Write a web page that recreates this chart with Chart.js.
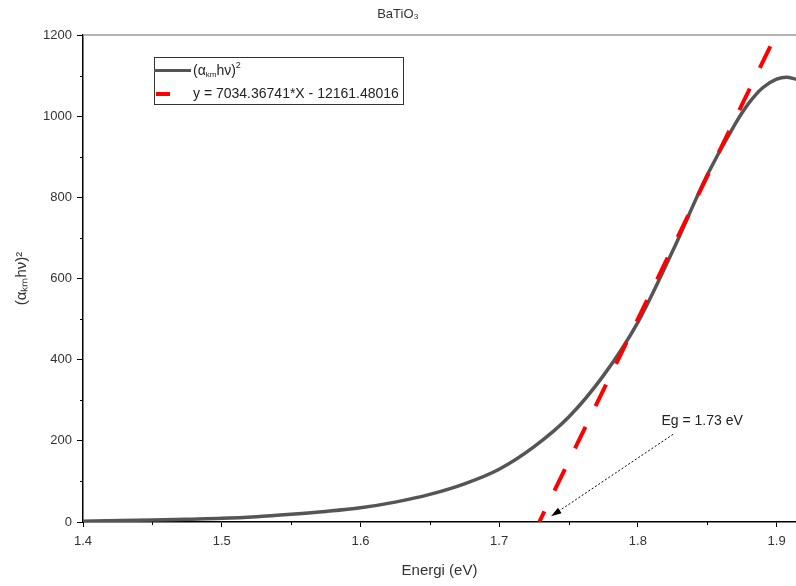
<!DOCTYPE html>
<html lang="en">
<head>
    <meta charset="UTF-8">
    <title>BaTiO3 Tauc plot</title>
    <script src="https://cdn.jsdelivr.net/npm/chart.js"></script>
    <style>
        * {
            margin: 0;
            padding: 0;
            box-sizing: border-box;
        }

        body {
            background-color: #fff;
        }
    </style>
</head>
<body>
    <canvas id="tauc-chart" width="796" height="586"></canvas>

    <script>
        // (alpha_km * h * nu)^2
        var energies = [1.40, 1.45, 1.475, 1.50, 1.525, 1.55, 1.575, 1.60, 1.625, 1.65, 1.675, 1.70,
            1.725, 1.75, 1.775, 1.80, 1.825, 1.85, 1.87, 1.88, 1.89, 1.90, 1.907, 1.914];
        var absorption = [2, 5, 7, 9, 13, 19, 26, 35, 49, 68, 94, 130,
            185, 258, 360, 492, 667, 855, 980, 1032, 1070, 1091, 1096, 1091];

        // linear fit end points (drawn from the top end down)
        var fitX = [1.8955, 1.7289];
        var fitY = [1172, 0];

        var xTicks = [1.4, 1.5, 1.6, 1.7, 1.8, 1.9];
        var xMinor = [1.45, 1.55, 1.65, 1.75, 1.85];
        var yTicks = [0, 200, 400, 600, 800, 1000, 1200];
        var yMinor = [100, 300, 500, 700, 900, 1100];

        var curveLabel = '(\u03b1\u2096\u2098h\u03bd)\u00b2';
        var fitLabel = 'y = 7034.36741*X - 12161.48016';
        var gapLabel = 'Eg = 1.73 eV';
        var gapArrow = { from: [1.8254, 216], to: [1.7374, 14], text: [1.8463, 248] };

        var fontFamily = '"Liberation Sans", Arial, sans-serif';

        function pts(xs, ys) {
            return xs.map(function (x, i) { return { x: x, y: ys[i] }; });
        }

        var extras = {
            id: 'extras',
            afterDraw: function (chart) {
                var ctx = chart.ctx;
                var area = chart.chartArea;
                var sx = chart.scales.x, sy = chart.scales.y;
                ctx.save();

                // top frame line
                ctx.strokeStyle = '#9a9a9a';
                ctx.lineWidth = 1.5;
                ctx.beginPath();
                ctx.moveTo(area.left, area.top);
                ctx.lineTo(area.right, area.top);
                ctx.stroke();

                // minor ticks
                ctx.strokeStyle = '#000';
                ctx.lineWidth = 1;
                ctx.beginPath();
                xMinor.forEach(function (v) {
                    var px = Math.round(sx.getPixelForValue(v)) + 0.5;
                    ctx.moveTo(px, area.bottom);
                    ctx.lineTo(px, area.bottom + 3);
                });
                yMinor.forEach(function (v) {
                    var py = Math.round(sy.getPixelForValue(v)) + 0.5;
                    ctx.moveTo(area.left, py);
                    ctx.lineTo(area.left - 3, py);
                });
                ctx.stroke();

                // legend box
                var lx = 154, ly = 57, lw = 249, lh = 47;
                ctx.fillStyle = '#fff';
                ctx.fillRect(lx, ly, lw, lh);
                ctx.strokeStyle = '#333';
                ctx.lineWidth = 1;
                ctx.strokeRect(lx + 0.5, ly + 0.5, lw, lh);

                ctx.strokeStyle = '#555';
                ctx.lineWidth = 3;
                ctx.beginPath();
                ctx.moveTo(lx, 70.5);
                ctx.lineTo(lx + 37, 70.5);
                ctx.stroke();

                ctx.strokeStyle = '#ff0000';
                ctx.lineWidth = 4;
                ctx.beginPath();
                ctx.moveTo(lx + 2, 94);
                ctx.lineTo(lx + 16, 94);
                ctx.stroke();

                ctx.fillStyle = '#222';
                ctx.textBaseline = 'middle';
                ctx.textAlign = 'left';
                var tx = lx + 39;
                ctx.font = '14px ' + fontFamily;
                ctx.fillText('(\u03b1', tx, 71);
                tx += ctx.measureText('(\u03b1').width;
                ctx.font = '8px ' + fontFamily;
                ctx.fillText('km', tx, 75);
                tx += ctx.measureText('km').width;
                ctx.font = '14px ' + fontFamily;
                ctx.fillText('h\u03bd)', tx, 71);
                tx += ctx.measureText('h\u03bd)').width;
                ctx.font = '9px ' + fontFamily;
                ctx.fillText('2', tx, 66);

                ctx.font = '14px ' + fontFamily;
                ctx.fillText(fitLabel, lx + 39, 94);

                // band gap annotation
                var ax0 = sx.getPixelForValue(gapArrow.from[0]), ay0 = sy.getPixelForValue(gapArrow.from[1]);
                var ax1 = sx.getPixelForValue(gapArrow.to[0]), ay1 = sy.getPixelForValue(gapArrow.to[1]);
                var ang = Math.atan2(ay1 - ay0, ax1 - ax0);
                ctx.strokeStyle = '#000';
                ctx.lineWidth = 1;
                ctx.setLineDash([2, 2]);
                ctx.beginPath();
                ctx.moveTo(ax0, ay0);
                ctx.lineTo(ax1 - 8 * Math.cos(ang), ay1 - 8 * Math.sin(ang));
                ctx.stroke();
                ctx.setLineDash([]);
                ctx.fillStyle = '#000';
                ctx.beginPath();
                ctx.moveTo(ax1, ay1);
                ctx.lineTo(ax1 - 11 * Math.cos(ang - 0.3), ay1 - 11 * Math.sin(ang - 0.3));
                ctx.lineTo(ax1 - 11 * Math.cos(ang + 0.3), ay1 - 11 * Math.sin(ang + 0.3));
                ctx.closePath();
                ctx.fill();

                ctx.fillStyle = '#222';
                ctx.font = '14px ' + fontFamily;
                ctx.textAlign = 'center';
                ctx.fillText(gapLabel, sx.getPixelForValue(gapArrow.text[0]), sy.getPixelForValue(gapArrow.text[1]));

                ctx.restore();
            }
        };

        var tickFont = { family: fontFamily, size: 13 };

        var ctx = document.getElementById('tauc-chart').getContext('2d');
        var myChart = new Chart(ctx, {
            type: 'scatter',
            data: {
                datasets: [{
                    label: curveLabel,
                    data: pts(energies, absorption),
                    showLine: true,
                    borderColor: '#555555',
                    borderWidth: 3.5,
                    pointRadius: 0,
                    cubicInterpolationMode: 'monotone',
                    order: 2
                }, {
                    label: fitLabel,
                    data: pts(fitX, fitY),
                    showLine: true,
                    borderColor: '#ff0000',
                    borderWidth: 4,
                    borderDash: [24, 23],
                    pointRadius: 0,
                    order: 1
                }]
            },
            options: {
                responsive: false,
                animation: false,
                layout: { padding: 0 },
                plugins: {
                    legend: { display: false },
                    tooltip: { enabled: false },
                    title: {
                        display: true,
                        text: 'BaTiO\u2083',
                        color: '#333',
                        font: { family: fontFamily, size: 13, weight: 'normal' },
                        padding: { top: 7, bottom: 12.4 }
                    }
                },
                scales: {
                    x: {
                        type: 'linear',
                        min: 1.4,
                        max: 1.914,
                        afterBuildTicks: function (s) { s.ticks = xTicks.map(function (v) { return { value: v }; }); },
                        afterFit: function (s) { s.height = 64; },
                        grid: { drawOnChartArea: false, tickLength: 5, tickColor: '#000' },
                        border: { color: '#000', width: 1.5 },
                        ticks: {
                            color: '#333',
                            font: tickFont,
                            padding: 7,
                            maxRotation: 0,
                            callback: function (v) { return v.toFixed(1); }
                        },
                        title: {
                            display: true,
                            text: 'Energi (eV)',
                            color: '#333',
                            font: { family: fontFamily, size: 15 },
                            padding: { top: 2, bottom: 6 }
                        }
                    },
                    y: {
                        min: 0,
                        max: 1200,
                        afterBuildTicks: function (s) { s.ticks = yTicks.map(function (v) { return { value: v }; }); },
                        afterFit: function (s) { s.width = 83; },
                        grid: { drawOnChartArea: false, tickLength: 6, tickColor: '#000' },
                        border: { color: '#000', width: 1.5 },
                        ticks: {
                            color: '#333',
                            font: tickFont,
                            padding: 5,
                            callback: function (v) { return String(v); }
                        },
                        title: {
                            display: true,
                            text: curveLabel,
                            color: '#333',
                            font: { family: fontFamily, size: 15 },
                            padding: { top: 13, bottom: 0 }
                        }
                    }
                }
            },
            plugins: [extras]
        });
    </script>
</body>
</html>
